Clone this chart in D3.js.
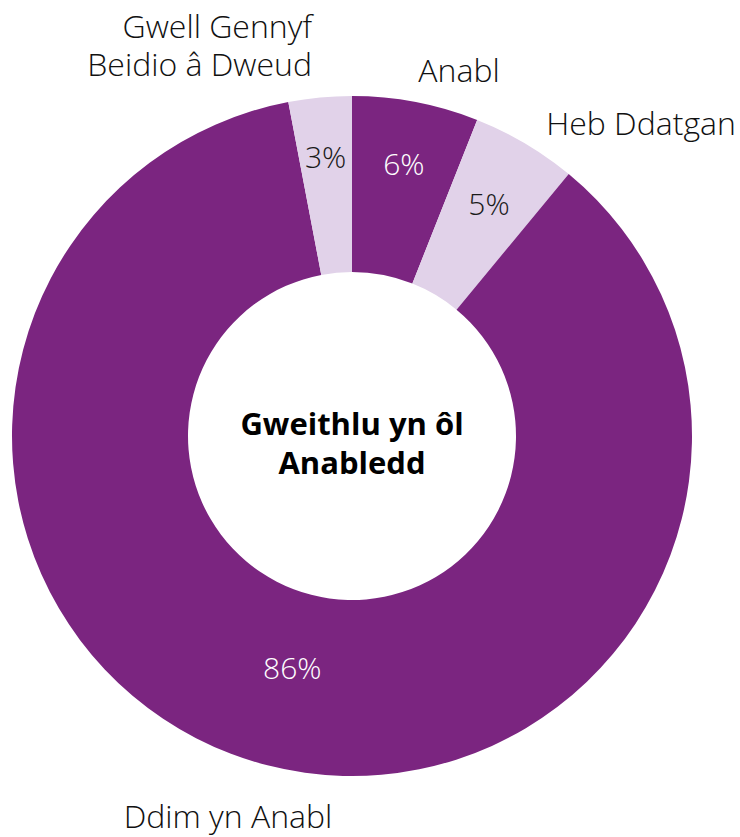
<!DOCTYPE html>
<html>
<head>
<meta charset="utf-8">
<script src="https://cdn.jsdelivr.net/npm/d3@7"></script>
<style>
  html, body { margin: 0; padding: 0; background: #fff; }
  svg { display: block; }
  text { font-family: "Open Sans", "Noto Sans", sans-serif; }
</style>
</head>
<body>
<svg id="chart" width="740" height="837"></svg>
<script>
// Workforce by disability status (percent of staff)
const categories = ["Anabl", "Heb Ddatgan", "Ddim yn Anabl", "Gwell Gennyf Beidio â Dweud"];
const values = [6, 5, 86, 3];
const valueLabels = ["6%", "5%", "86%", "3%"];
const centreTitle = ["Gweithlu yn ôl", "Anabledd"];

// Layout
const width = 740, height = 837;
const cx = 352, cy = 436;
const outerR = 340, innerR = 164;
const dark = "#7B2580", light = "#E1D2E9";
const sliceFill = [dark, light, dark, light];
const valueTextFill = ["#ffffff", "#1a1a1a", "#ffffff", "#1a1a1a"];
// radial distance of each value label from the centre
const valueLabelR = [277, 269, 240, 280];
// category label anchors relative to the centre: [dx, dy, anchor]
const catLabelPos = [
  [107, -366, "middle"],
  [289, -313, "middle"],
  [-124, 380, "middle"],
  [-40, -410, "end"]
];

const svg = d3.select("#chart");
const g = svg.append("g").attr("transform", `translate(${cx},${cy})`);

const pie = d3.pie().sort(null).value(d => d);
const arcs = pie(values);
const arc = d3.arc().innerRadius(innerR).outerRadius(outerR);

g.selectAll("path.slice")
  .data(arcs)
  .join("path")
  .attr("class", "slice")
  .attr("d", arc)
  .attr("fill", (d, i) => sliceFill[i]);

// value labels inside the ring
g.selectAll("text.value")
  .data(arcs)
  .join("text")
  .attr("class", "value")
  .attr("transform", (d, i) => {
    const a = (d.startAngle + d.endAngle) / 2;
    const r = valueLabelR[i];
    return `translate(${r * Math.sin(a)},${-r * Math.cos(a)})`;
  })
  .attr("text-anchor", "middle")
  .attr("dy", "0.36em")
  .attr("font-size", 30)
  .attr("font-weight", 300)
  .attr("fill", (d, i) => valueTextFill[i])
  .text((d, i) => valueLabels[i]);

// category labels outside the ring
const cat = g.selectAll("text.cat")
  .data(categories)
  .join("text")
  .attr("class", "cat")
  .attr("x", (d, i) => catLabelPos[i][0])
  .attr("y", (d, i) => catLabelPos[i][1])
  .attr("text-anchor", (d, i) => catLabelPos[i][2])
  .attr("font-size", 32)
  .attr("font-weight", 300)
  .attr("fill", "#111");

cat.each(function(d, i) {
  const t = d3.select(this);
  const lines = i === 3 ? ["Gwell Gennyf", "Beidio â Dweud"] : [d];
  lines.forEach((ln, k) => {
    t.append("tspan")
      .attr("x", catLabelPos[i][0])
      .attr("dy", k === 0 ? "0.36em" : 38)
      .text(ln);
  });
});

// centre title
const title = g.append("text")
  .attr("text-anchor", "middle")
  .attr("font-size", 31)
  .attr("font-weight", 700)
  .attr("fill", "#000");
centreTitle.forEach((ln, k) => {
  title.append("tspan")
    .attr("x", 0)
    .attr("y", k === 0 ? -1 : 38)
    .text(ln);
});
</script>
</body>
</html>
